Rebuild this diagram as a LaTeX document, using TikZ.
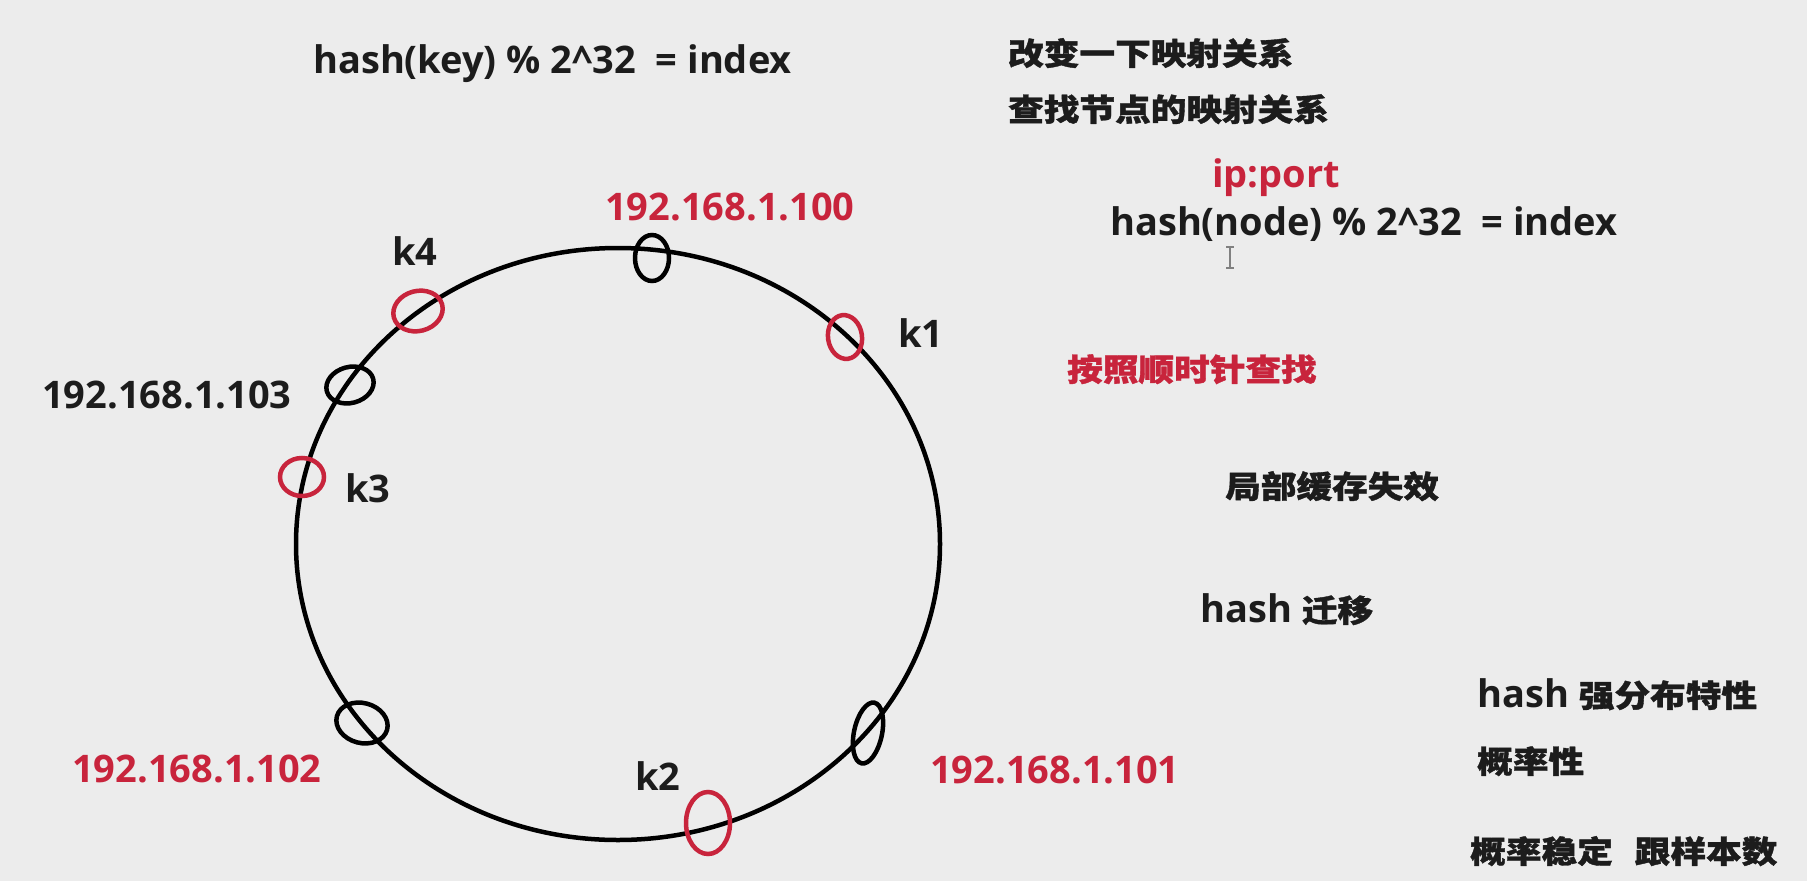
\documentclass[tikz,border=0pt]{standalone}
\usepackage{fontspec}
\setmainfont{Open Sans}
\newfontfamily\cjk{Noto Sans CJK SC}[FakeStretch=1.15, FakeBold=1.2]
\usetikzlibrary{shapes.geometric}
\definecolor{bg}{RGB}{236,236,236}
\definecolor{redc}{RGB}{200,36,60}
\definecolor{ink}{RGB}{28,28,28}
\newcommand{\hanfont}{\fontsize{31}{33}\selectfont\cjk\bfseries}
\begin{document}
\begin{tikzpicture}[x=1pt,y=-1pt,
  lat/.style={anchor=base west, inner sep=0pt, text=ink, font=\fontsize{38}{40}\selectfont\bfseries},
  han/.style={anchor=base west, inner sep=0pt, text=ink, font=\hanfont},
  redt/.style={text=redc},
  ringline/.style={draw=black, line width=4.5pt, ellipse, inner sep=0pt, minimum width=644pt, minimum height=592pt},
  srv/.style={draw=black, line width=4.5pt, ellipse, inner sep=0pt},
  keyo/.style={draw=redc, line width=4.5pt, ellipse, inner sep=0pt},
]
\fill[bg] (0,0) rectangle (1807,881);
\useasboundingbox (0,0) rectangle (1807,881);

% ring
\node[ringline] (ring) at (618,544) {};

% servers (black) and keys (red)
\node[srv, minimum width=34pt, minimum height=46pt] (s100) at (652,258) {};
\node[srv, minimum width=48pt, minimum height=36pt, rotate=15] (s103) at (350,385) {};
\node[srv, minimum width=52pt, minimum height=40pt, rotate=-15] (s102) at (362,723) {};
\node[srv, minimum width=28pt, minimum height=62pt, rotate=-12] (s101) at (868,733) {};
\node[keyo, minimum width=34pt, minimum height=44pt, rotate=8] (k1o) at (845,337) {};
\node[keyo, minimum width=44pt, minimum height=62pt] (k2o) at (708,823) {};
\node[keyo, minimum width=44pt, minimum height=38pt] (k3o) at (302,477) {};
\node[keyo, minimum width=50pt, minimum height=40pt, rotate=15] (k4o) at (418,311) {};

% labels on ring
\node[lat, redt] (l100) at (605,220) {192.168.1.100};
\node[lat] (l103) at (42,408) {192.168.1.103};
\node[lat, redt] (l102) at (72,782) {192.168.1.102};
\node[lat, redt] (l101) at (930,783) {192.168.1.101};
\node[lat] (lk1) at (898,347) {k1};
\node[lat] (lk2) at (635,790) {k2};
\node[lat] (lk3) at (345,502) {k3};
\node[lat] (lk4) at (392,265) {k4};

% formulas
\node[lat] (hkey) at (313,73) {hash(key) \% 2\textasciicircum 32\ \ = index};
\node[lat, redt] (ipport) at (1212,187) {ip:port};
\node[lat] (hnode) at (1110,235) {hash(node) \% 2\textasciicircum 32\ \ = index};

% notes
\node[han] (n1) at (1008,65) {改变一下映射关系};
\node[han] (n2) at (1008,121) {查找节点的映射关系};
\node[han, redt] (n3) at (1067,381) {按照顺时针查找};
\node[han] (n4) at (1225,498) {局部缓存失效};
\node[lat] (n5) at (1200,622) {hash {\hanfont 迁移}};
\node[lat] (n6) at (1477,707) {hash {\hanfont 强分布特性}};
\node[han] (n7) at (1477,773) {概率性};
\node[han] (n8) at (1470,863) {概率稳定\hspace{22pt}跟样本数};

% text cursor
\draw[gray, line width=1.2pt] (1230,247) -- (1230,268)
  (1226,247) -- (1234,247) (1226,268) -- (1234,268);
\end{tikzpicture}
\end{document}
